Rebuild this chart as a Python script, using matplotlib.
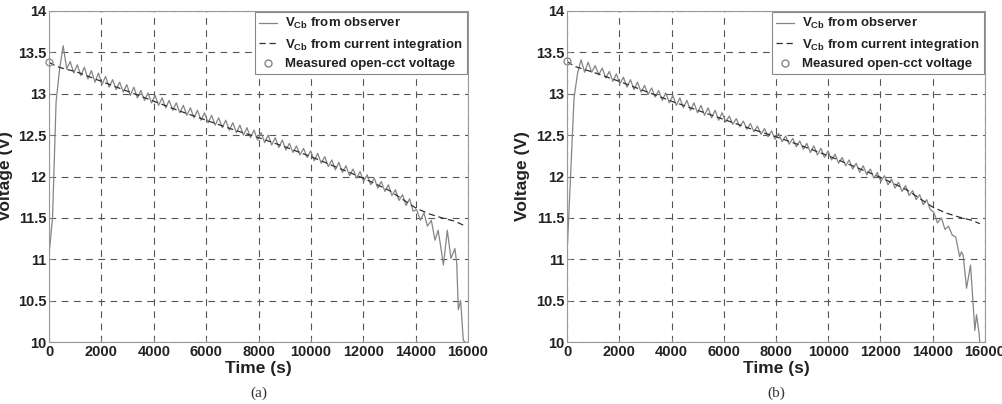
#%% Import packages
import numpy as np
from matplotlib import pyplot as plt
from matplotlib.lines import Line2D

plt.rcParams['font.family'] = ['Liberation Sans', 'DejaVu Sans']
plt.rcParams['font.weight'] = 'bold'
plt.rcParams['mathtext.fontset'] = 'custom'
plt.rcParams['mathtext.rm'] = 'Liberation Sans:bold'

#%% Data
t_step = 135  # observer samples, s

# panel (a)
obs_a = [11.05, 11.50, 12.90, 13.30, 13.58, 13.30,
         13.39, 13.25, 13.35, 13.22, 13.32, 13.18, 13.28, 13.14, 13.25, 13.11,
         13.21, 13.08, 13.17, 13.05, 13.14, 13.02, 13.11, 12.98, 13.08, 12.95,
         13.04, 12.92, 13.01, 12.89, 12.98, 12.86, 12.95, 12.83, 12.92, 12.80,
         12.89, 12.77, 12.86, 12.74, 12.83, 12.71, 12.80, 12.68, 12.77, 12.65,
         12.74, 12.62, 12.71, 12.59, 12.68, 12.56, 12.65, 12.53, 12.62, 12.50,
         12.59, 12.47, 12.56, 12.44, 12.53, 12.41, 12.50, 12.38, 12.47, 12.35,
         12.44, 12.32, 12.40, 12.29, 12.37, 12.26, 12.34, 12.23, 12.31, 12.19,
         12.28, 12.16, 12.24, 12.12, 12.20, 12.08, 12.17, 12.05, 12.13, 12.01,
         12.09, 11.98, 12.06, 11.94, 12.02, 11.90, 11.98, 11.86, 11.94, 11.82,
         11.90, 11.77, 11.84, 11.71, 11.78, 11.65, 11.73, 11.58]
obs_a_tail_t = [14040, 14180, 14320, 14450, 14600, 14740, 14860, 14960, 15060,
                15210, 15350, 15500, 15570, 15630, 15720, 15820, 15880]
obs_a_tail_v = [11.60, 11.47, 11.56, 11.40, 11.47, 11.23, 11.35, 11.15, 10.93,
                11.35, 11.01, 11.13, 10.95, 10.39, 10.50, 10.02, 10.00]
int_a_t = [0, 300, 600, 1000, 2000, 3000, 4000, 5000, 6000, 7000, 8000, 9000,
           10000, 11000, 12000, 13000, 14000, 14500, 15000, 15500, 15900]
int_a_v = [13.38, 13.33, 13.30, 13.27, 13.15, 13.03, 12.91, 12.79, 12.68, 12.57,
           12.47, 12.36, 12.24, 12.11, 11.98, 11.83, 11.62, 11.55, 11.50, 11.46, 11.40]
ocv_a = (0, 13.38)

# panel (b)
obs_b = [11.05, 12.00, 12.95, 13.25, 13.41, 13.26,
         13.38, 13.26, 13.34, 13.23, 13.31, 13.19, 13.27, 13.15, 13.24, 13.12,
         13.20, 13.08, 13.17, 13.05, 13.14, 13.02, 13.10, 12.99, 13.07, 12.96,
         13.04, 12.92, 13.01, 12.89, 12.98, 12.86, 12.95, 12.83, 12.92, 12.80,
         12.89, 12.77, 12.86, 12.74, 12.83, 12.71, 12.80, 12.68, 12.77, 12.66,
         12.73, 12.63, 12.70, 12.60, 12.67, 12.57, 12.64, 12.54, 12.61, 12.51,
         12.58, 12.48, 12.55, 12.45, 12.52, 12.42, 12.49, 12.39, 12.46, 12.36,
         12.43, 12.33, 12.40, 12.29, 12.37, 12.26, 12.34, 12.23, 12.31, 12.20,
         12.27, 12.16, 12.23, 12.13, 12.20, 12.09, 12.16, 12.05, 12.13, 12.02,
         12.09, 11.98, 12.05, 11.94, 12.01, 11.90, 11.97, 11.86, 11.93, 11.82,
         11.89, 11.77, 11.83, 11.72, 11.78, 11.66, 11.72, 11.60]
obs_b_tail_t = [14040, 14180, 14330, 14470, 14600, 14750, 14880, 15030, 15100,
                15164, 15294, 15446, 15611, 15675, 15775, 15800]
obs_b_tail_v = [11.57, 11.44, 11.50, 11.36, 11.40, 11.29, 11.27, 11.03, 11.09,
                11.05, 10.65, 10.93, 10.14, 10.33, 10.10, 10.00]
int_b_t = [0, 300, 600, 1000, 2000, 3000, 4000, 5000, 6000, 7000, 8000, 9000,
           10000, 11000, 12000, 13000, 14000, 14500, 15000, 15500, 15800]
int_b_v = [13.39, 13.33, 13.30, 13.26, 13.15, 13.03, 12.91, 12.80, 12.69, 12.58,
           12.48, 12.37, 12.25, 12.12, 11.99, 11.84, 11.63, 11.56, 11.51, 11.47, 11.43]
ocv_b = (0, 13.39)

labels = [r'$\mathrm{V_{Cb}}$ from observer',
          r'$\mathrm{V_{Cb}}$ from current integration',
          'Measured open-cct voltage']

#%% Make Plots
W, H = 1002, 404
fig = plt.figure(figsize=(W / 100, H / 100), dpi=100)

panels = [
    (49, 468, obs_a, obs_a_tail_t, obs_a_tail_v, int_a_t, int_a_v, ocv_a, '(a)', 6),
    (567, 985, obs_b, obs_b_tail_t, obs_b_tail_v, int_b_t, int_b_v, ocv_b, '(b)', 522),
]

obs_col = '#858585'
int_col = '#303030'

for (x0, x1, obs, tt, tv, it, iv, ocv, cap, ylx) in panels:
    ax = fig.add_axes([x0 / W, 1 - 342 / H, (x1 - x0) / W, (342 - 11) / H])
    t_obs = np.r_[np.arange(len(obs)) * t_step, tt]
    v_obs = np.r_[obs, tv]
    ax.plot(t_obs, v_obs, color=obs_col, lw=0.9)
    ax.plot(it, iv, color=int_col, lw=0.9, ls=(0, (5, 3)))
    ax.plot([ocv[0]], [ocv[1]], 'o', mfc='none', mec=obs_col, ms=5, mew=0.9,
            clip_on=False)

    ax.set_xlim(0, 16000)
    ax.set_ylim(10, 14)
    ax.set_xticks(np.arange(0, 16001, 2000))
    ax.set_yticks(np.arange(10, 14.01, 0.5))
    ax.set_yticklabels(['10', '10.5', '11', '11.5', '12', '12.5', '13', '13.5', '14'])
    ax.tick_params(direction='in', length=3, width=0.6, colors='#888888',
                   labelcolor='#222222', labelsize=10.5, pad=2)
    ax.grid(True, color='#555555', ls=(0, (6, 5)), lw=0.8)
    for s in ax.spines.values():
        s.set_color('#999999')
        s.set_linewidth(0.8)

    handles = [Line2D([], [], color=obs_col, lw=0.9),
               Line2D([], [], color=int_col, lw=0.9, ls=(0, (5, 3))),
               Line2D([], [], color=obs_col, marker='o', ls='none', mfc='none', ms=5)]
    leg = ax.legend(handles, labels, loc='upper right', fontsize=9.5,
                    frameon=True, fancybox=False, framealpha=1, borderaxespad=0.1,
                    handlelength=1.4, handletextpad=0.6, labelspacing=0.4,
                    borderpad=0.3)
    leg.get_frame().set_edgecolor('#888888')
    leg.get_frame().set_linewidth(0.8)
    for txt in leg.get_texts():
        txt.set_color('#222222')

    xc = (x0 + x1) / 2
    fig.text(xc / W, 1 - 369 / H, 'Time (s)', ha='center', va='center',
             fontsize=12.5, fontweight='bold', color='#222222')
    fig.text(ylx / W, 1 - 176 / H, 'Voltage (V)', ha='center', va='center',
             rotation=90, fontsize=12.5, fontweight='bold', color='#222222')
    fig.text(xc / W, 1 - 393 / H, cap, ha='center', va='center',
             fontsize=11, fontweight='normal', family='Liberation Serif',
             color='#333333')

plt.savefig('out.png', dpi=100)
